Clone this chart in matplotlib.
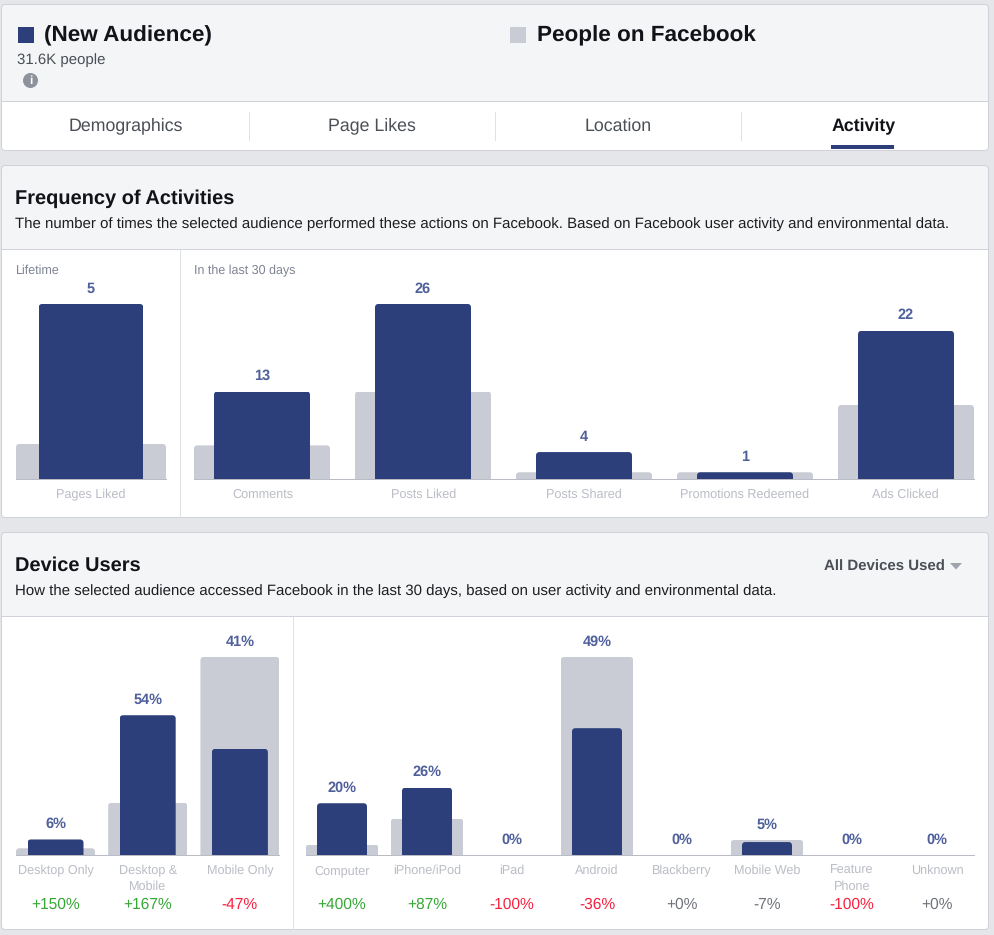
import matplotlib
matplotlib.use('Agg')
import matplotlib.pyplot as plt
from matplotlib.patches import FancyBboxPatch, Rectangle, Circle, Polygon

plt.rcParams['font.family'] = ['Liberation Sans', 'DejaVu Sans']
plt.rcParams['text.hinting'] = 'no_hinting'

W, H = 994, 935

# frequency of activities
lifetime_labels = ['Pages Liked']
lifetime_audience = [5]
lifetime_facebook = [1]

activity_labels = ['Comments', 'Posts Liked', 'Posts Shared', 'Promotions Redeemed', 'Ads Clicked']
activity_audience = [13, 26, 4, 1, 22]
activity_facebook = [5, 13, 1, 1, 11]

# device users
usage_labels = ['Desktop Only', 'Desktop &\nMobile', 'Mobile Only']
usage_audience = [6, 54, 41]
usage_facebook = [2.6, 20.2, 76.5]
usage_delta = ['+150%', '+167%', '-47%']

device_labels = ['Computer', 'iPhone/iPod', 'iPad', 'Android', 'Blackberry',
                 'Mobile Web', 'Feature\nPhone', 'Unknown']
device_audience = [20, 26, 0, 49, 0, 5, 0, 0]
device_facebook = [4, 14, 0, 76.5, 0, 5.8, 0, 0]
device_delta = ['+400%', '+87%', '-100%', '-36%', '+0%', '-7%', '-100%', '+0%']

NAVY = '#2c3f7b'
GREY = '#c9ccd4'
PAGE = '#e4e6ea'
HEAD = '#f4f5f7'
BORDER = '#cfd2d9'
LINE = '#dfe1e5'
VALUE = '#4f609c'
LABEL = '#babdc5'
GREEN = '#35a835'
RED = '#f5213f'
NEUTRAL = '#6f737b'
THIN = 0.72  # one pixel


def px(size):
    return size * 0.72


def pixel_axes(left, top, right, bottom):
    return fig.add_axes([left / W, 1 - bottom / H, (right - left) / W, (bottom - top) / H])


def panel(top, split, bottom):
    bg.add_patch(FancyBboxPatch((1.5, top), 987, bottom - top, boxstyle='round,pad=0,rounding_size=4',
                                fc=HEAD, ec=BORDER, lw=THIN))
    bg.add_patch(FancyBboxPatch((2, split), 986, bottom - split - 0.5, boxstyle='round,pad=0,rounding_size=4',
                                fc='white', ec='none'))
    bg.add_patch(Rectangle((2, split), 986, bottom - split - 8, fc='white', ec='none'))
    bg.plot([2, 988], [split, split], color=BORDER, lw=THIN)


def rounded_bars(ax, values, width, color, zorder, radius_px=3.5):
    # bars with slightly rounded tops, clipped with a patch in data units
    x0, x1 = ax.get_xlim()
    y0, y1 = ax.get_ylim()
    bbox = ax.get_window_extent()
    px_x = bbox.width / (x1 - x0)
    px_y = bbox.height / (y1 - y0)
    bars = ax.bar(range(len(values)), values, width=width, color=color, zorder=zorder)
    for rect in bars:
        h = rect.get_height()
        if h <= 0:
            continue
        low = -radius_px * 3 / px_y
        clip = FancyBboxPatch((rect.get_x(), low), rect.get_width(), h - low,
                              boxstyle='round,pad=0,rounding_size=%f' % (radius_px / px_x),
                              mutation_aspect=px_x / px_y, transform=ax.transData)
        rect.set_clip_path(clip)
    return bars


def bar_chart(box, audience, facebook, ymax, w_fb, w_aud, fmt, base_span):
    ax = pixel_axes(*box)
    ax.patch.set_alpha(0)
    ax.set_xlim(-0.5, len(audience) - 0.5)
    ax.set_ylim(0, ymax)
    ax.axis('off')
    rounded_bars(ax, facebook, w_fb, GREY, 2)
    rounded_bars(ax, audience, w_aud, NAVY, 3)
    for i, v in enumerate(audience):
        # label sits above whichever bar is taller
        top = max(v, facebook[i])
        ax.annotate(fmt % v, (i, top), xytext=(0, px(11.5)), textcoords='offset points',
                    ha='center', va='baseline', fontsize=px(14.5), fontweight='bold',
                    color=VALUE, annotation_clip=False)
    bg.plot(base_span, [box[3] + 0.3, box[3] + 0.3], color='#b9bcc4', lw=THIN, zorder=5)
    return ax


def x_labels(labels, first, step, y):
    for i, lab in enumerate(labels):
        for j, part in enumerate(lab.split('\n')):
            bg.text(first + step * i, y + 16 * j, part, ha='center', va='baseline',
                    fontsize=px(12.6), color=LABEL)


fig = plt.figure(figsize=(W / 100, H / 100), dpi=100, facecolor=PAGE)
bg = fig.add_axes([0, 0, 1, 1])
bg.set_xlim(0, W)
bg.set_ylim(H, 0)
bg.axis('off')

# top card
panel(4.5, 101.2, 150.5)
bg.add_patch(Rectangle((18, 27), 16, 16, fc=NAVY, ec='none'))
bg.add_patch(Rectangle((510, 27), 16, 16, fc=GREY, ec='none'))
bg.text(44, 35.5, '(New Audience)', fontsize=px(22.5), fontweight='bold', color='#111318', va='center')
bg.text(537, 35.5, 'People on Facebook', fontsize=px(22.5), fontweight='bold', color='#111318', va='center')
bg.text(17, 60.5, '31.6K people', fontsize=px(15), color='#4b4f56', va='center')
bg.add_patch(Circle((30.5, 80.5), 7.5, fc='#8d929c', ec='none'))
bg.text(30.5, 80.5, 'i', fontsize=px(12), fontweight='bold', color='white', ha='center', va='center')

tabs = ['Demographics', 'Page Likes', 'Location', 'Activity']
for i, tab in enumerate(tabs):
    active = tab == 'Activity'
    bg.text(126 + 246 * i, 126, tab, fontsize=px(17.7), ha='center', va='center',
            fontweight='bold' if active else 'normal', color='#111318' if active else '#4b4f56')
for x in [249.2, 495.2, 741.2]:
    bg.plot([x, x], [112, 140], color=LINE, lw=THIN)
bg.add_patch(Rectangle((831, 145), 63, 4, fc=NAVY, ec='none'))

# frequency card
panel(165.5, 249.2, 517.5)
bg.text(15, 199, 'Frequency of Activities', fontsize=px(20), fontweight='bold', color='#111318', va='center')
bg.text(15, 224, 'The number of times the selected audience performed these actions on Facebook. '
        'Based on Facebook user activity and environmental data.',
        fontsize=px(15), color='#1c1e21', va='center')
bg.plot([180.2, 180.2], [250, 517], color=LINE, lw=THIN)
bg.text(16, 271, 'Lifetime', fontsize=px(12.5), color='#7f8493', va='center')
bg.text(194, 271, 'In the last 30 days', fontsize=px(12.5), color='#7f8493', va='center')

bar_chart((16, 304, 166, 479), lifetime_audience, lifetime_facebook, 5,
          1.0, 104.5 / 150, '%d', [16, 166])
bar_chart((181.5, 304, 986.5, 479), activity_audience, activity_facebook, 26,
          136 / 161, 96 / 161, '%d', [194, 974])
x_labels(lifetime_labels, 91, 0, 498)
x_labels(activity_labels, 262.5, 160.8, 498)

# device card
panel(532.5, 616.2, 929.5)
bg.text(15, 566, 'Device Users', fontsize=px(20), fontweight='bold', color='#111318', va='center')
bg.text(15, 591, 'How the selected audience accessed Facebook in the last 30 days, '
        'based on user activity and environmental data.',
        fontsize=px(15), color='#1c1e21', va='center')
bg.text(824, 567, 'All Devices Used', fontsize=px(15), fontweight='bold', color='#4b4f56', va='center')
bg.add_patch(Polygon([(950, 563), (962, 563), (956, 569.5)], fc='#a0a4ad', ec='none'))
bg.plot([293.2, 293.2], [617, 929], color=LINE, lw=THIN)

bar_chart((9.4, 657, 286, 855), usage_audience, usage_facebook, 76.5,
          79 / 92.2, 56 / 92.2, '%d%%', [16, 279])
bar_chart((299.5, 657, 979.5, 855), device_audience, device_facebook, 76.5,
          72.5 / 85, 50 / 85, '%d%%', [306, 974])
x_labels(usage_labels, 55.5, 92.2, 874)
x_labels(device_labels, 342, 85, 874)


def delta_color(text):
    if text in ('+0%', '-7%'):
        return NEUTRAL
    return GREEN if text.startswith('+') else RED


for i, d in enumerate(usage_delta):
    bg.text(55.5 + 92.2 * i, 904.5, d, fontsize=px(15.5), ha='center', va='center', color=delta_color(d))
for i, d in enumerate(device_delta):
    bg.text(342 + 85 * i, 904.5, d, fontsize=px(15.5), ha='center', va='center', color=delta_color(d))

fig.savefig('out.png', dpi=100, facecolor=PAGE)
